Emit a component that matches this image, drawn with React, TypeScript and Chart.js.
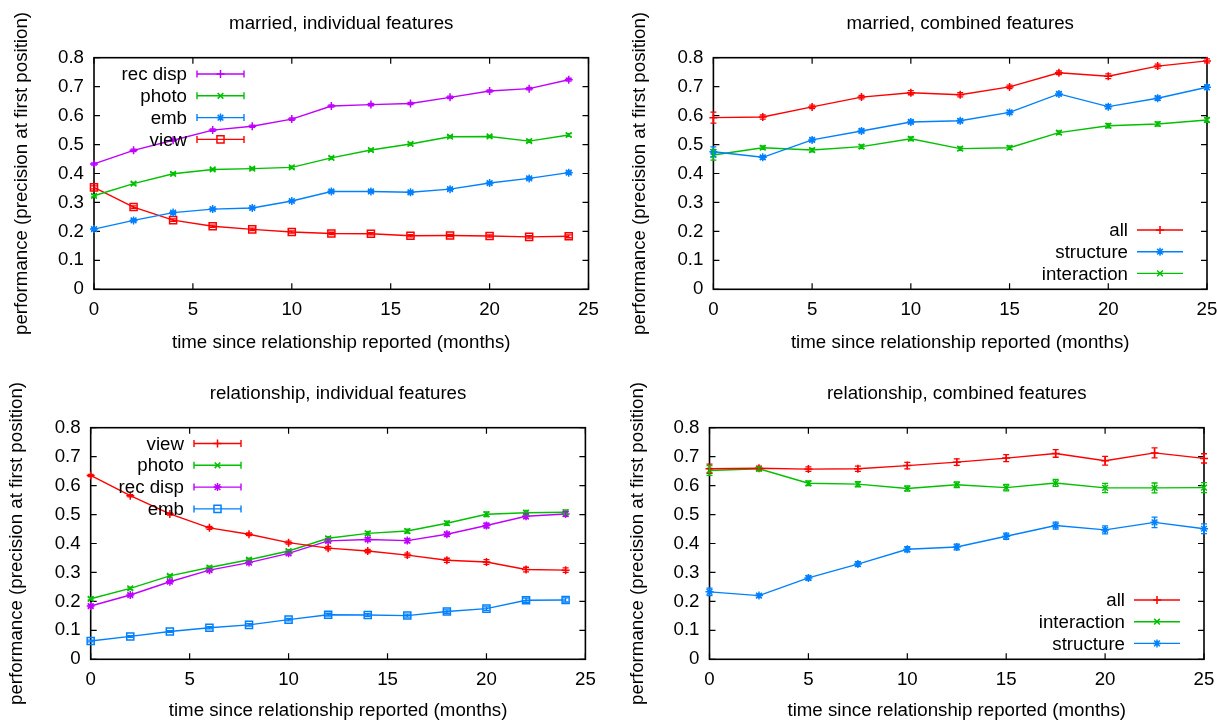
import React, { useEffect, useRef } from 'react';
import { Chart, registerables } from 'chart.js';

Chart.register(...registerables);

const FONT = '"Liberation Sans", Arial, Helvetica, sans-serif';

// ---------- axis data ----------
const monthsEven = [0, 2, 4, 6, 8, 10, 12, 14, 16, 18, 20, 22, 24];
const monthsQuarter = [0, 2.5, 5, 7.5, 10, 12.5, 15, 17.5, 20, 22.5, 25];
const xTickValues = [0, 5, 10, 15, 20, 25];
const xTickLabels = ['0', '5', '10', '15', '20', '25'];
const yTickValues = [0, 0.1, 0.2, 0.3, 0.4, 0.5, 0.6, 0.7, 0.8];
const yTickLabels = ['0', '0.1', '0.2', '0.3', '0.4', '0.5', '0.6', '0.7', '0.8'];

const xAxisTitle = 'time since relationship reported (months)';
const yAxisTitle = 'performance (precision at first position)';

// ---------- married, individual features ----------
const marriedIndRecDisp = [0.433, 0.48, 0.515, 0.55, 0.563, 0.588, 0.633, 0.638, 0.642, 0.663, 0.685, 0.693, 0.724];
const marriedIndRecDispErr = [0.004, 0.004, 0.004, 0.004, 0.004, 0.004, 0.004, 0.004, 0.004, 0.004, 0.004, 0.004, 0.005];
const marriedIndPhoto = [0.323, 0.365, 0.399, 0.414, 0.417, 0.421, 0.454, 0.481, 0.502, 0.527, 0.528, 0.512, 0.533];
const marriedIndPhotoErr = [0.004, 0.004, 0.004, 0.004, 0.004, 0.004, 0.004, 0.004, 0.004, 0.004, 0.004, 0.004, 0.005];
const marriedIndEmb = [0.208, 0.238, 0.265, 0.277, 0.281, 0.305, 0.338, 0.338, 0.335, 0.346, 0.367, 0.383, 0.403];
const marriedIndEmbErr = [0.004, 0.004, 0.004, 0.004, 0.004, 0.004, 0.004, 0.004, 0.004, 0.004, 0.004, 0.004, 0.005];
const marriedIndView = [0.352, 0.284, 0.239, 0.218, 0.207, 0.198, 0.193, 0.192, 0.185, 0.186, 0.184, 0.181, 0.183];
const marriedIndViewErr = [0.005, 0.004, 0.004, 0.004, 0.004, 0.004, 0.004, 0.004, 0.004, 0.004, 0.004, 0.004, 0.005];

// ---------- married, combined features ----------
const marriedCombAll = [0.593, 0.595, 0.63, 0.664, 0.679, 0.672, 0.699, 0.748, 0.736, 0.771, 0.789];
const marriedCombAllErr = [0.019, 0.007, 0.006, 0.006, 0.007, 0.007, 0.006, 0.006, 0.008, 0.007, 0.007];
const marriedCombStructure = [0.475, 0.456, 0.516, 0.547, 0.578, 0.582, 0.611, 0.675, 0.631, 0.66, 0.698];
const marriedCombStructureErr = [0.017, 0.006, 0.006, 0.006, 0.006, 0.006, 0.006, 0.006, 0.007, 0.007, 0.008];
const marriedCombInteraction = [0.464, 0.489, 0.481, 0.493, 0.52, 0.486, 0.489, 0.541, 0.565, 0.571, 0.585];
const marriedCombInteractionErr = [0.018, 0.006, 0.006, 0.006, 0.006, 0.006, 0.006, 0.006, 0.007, 0.007, 0.008];

// ---------- relationship, individual features ----------
const relIndView = [0.635, 0.565, 0.502, 0.454, 0.432, 0.403, 0.384, 0.374, 0.36, 0.342, 0.336, 0.31, 0.308];
const relIndViewErr = [0.004, 0.004, 0.004, 0.005, 0.005, 0.005, 0.006, 0.006, 0.007, 0.007, 0.008, 0.008, 0.008];
const relIndPhoto = [0.209, 0.245, 0.288, 0.317, 0.344, 0.374, 0.418, 0.435, 0.443, 0.47, 0.501, 0.506, 0.508];
const relIndPhotoErr = [0.004, 0.004, 0.004, 0.005, 0.005, 0.005, 0.006, 0.006, 0.007, 0.007, 0.008, 0.008, 0.008];
const relIndRecDisp = [0.184, 0.222, 0.268, 0.308, 0.334, 0.366, 0.409, 0.414, 0.41, 0.432, 0.462, 0.494, 0.502];
const relIndRecDispErr = [0.004, 0.004, 0.004, 0.005, 0.005, 0.005, 0.006, 0.006, 0.007, 0.007, 0.008, 0.008, 0.008];
const relIndEmb = [0.063, 0.079, 0.096, 0.109, 0.119, 0.137, 0.154, 0.153, 0.151, 0.165, 0.175, 0.204, 0.205];
const relIndEmbErr = [0.003, 0.003, 0.003, 0.004, 0.004, 0.004, 0.005, 0.005, 0.005, 0.006, 0.006, 0.007, 0.007];

// ---------- relationship, combined features ----------
const relCombAll = [0.658, 0.66, 0.657, 0.658, 0.669, 0.681, 0.695, 0.711, 0.686, 0.713, 0.694];
const relCombAllErr = [0.016, 0.007, 0.008, 0.009, 0.011, 0.011, 0.012, 0.013, 0.015, 0.017, 0.016];
const relCombInteraction = [0.652, 0.658, 0.608, 0.605, 0.59, 0.603, 0.593, 0.609, 0.592, 0.592, 0.593];
const relCombInteractionErr = [0.017, 0.007, 0.008, 0.009, 0.009, 0.01, 0.011, 0.012, 0.016, 0.017, 0.017];
const relCombStructure = [0.233, 0.22, 0.281, 0.329, 0.38, 0.388, 0.425, 0.462, 0.447, 0.473, 0.451];
const relCombStructureErr = [0.013, 0.006, 0.007, 0.008, 0.009, 0.01, 0.011, 0.012, 0.014, 0.018, 0.017];

const RED = '#ff0000';
const GREEN = '#00c000';
const BLUE = '#0080ff';
const PURPLE = '#c000ff';

type MarkerStyle = 'cross' | 'crossRot' | 'star' | 'rect';
type Series = { label: string; values: number[]; err: number[]; color: string; marker: MarkerStyle };
type Panel = {
  title: string;
  left: number; top: number; width: number; height: number;
  area: { l: number; r: number; t: number; b: number };
  titleY: number; yTitleX: number; xTitleY: number;
  xs: number[];
  series: Series[];
  key: { textRight: number; x1: number; x2: number; y0: number; dy: number; caps: boolean };
};

const panels: Panel[] = [
  {
    title: 'married, individual features',
    left: 0, top: 0, width: 608, height: 361,
    area: { l: 94, r: 588.5, t: 57.7, b: 289.3 },
    titleY: 24, yTitleX: 21.5, xTitleY: 343,
    xs: monthsEven,
    series: [
      { label: 'rec disp', values: marriedIndRecDisp, err: marriedIndRecDispErr, color: PURPLE, marker: 'cross' },
      { label: 'photo', values: marriedIndPhoto, err: marriedIndPhotoErr, color: GREEN, marker: 'crossRot' },
      { label: 'emb', values: marriedIndEmb, err: marriedIndEmbErr, color: BLUE, marker: 'star' },
      { label: 'view', values: marriedIndView, err: marriedIndViewErr, color: RED, marker: 'rect' },
    ],
    key: { textRight: 187, x1: 197, x2: 244, y0: 74, dy: 21.8, caps: true },
  },
  {
    title: 'married, combined features',
    left: 608, top: 0, width: 609, height: 361,
    area: { l: 105.4, r: 599, t: 57.7, b: 289.3 },
    titleY: 24, yTitleX: 31.7, xTitleY: 343,
    xs: monthsQuarter,
    series: [
      { label: 'all', values: marriedCombAll, err: marriedCombAllErr, color: RED, marker: 'cross' },
      { label: 'structure', values: marriedCombStructure, err: marriedCombStructureErr, color: BLUE, marker: 'star' },
      { label: 'interaction', values: marriedCombInteraction, err: marriedCombInteractionErr, color: GREEN, marker: 'crossRot' },
    ],
    key: { textRight: 520, x1: 529, x2: 575, y0: 230, dy: 21.7, caps: false },
  },
  {
    title: 'relationship, individual features',
    left: 0, top: 361, width: 608, height: 361,
    area: { l: 90.7, r: 585.4, t: 66.7, b: 298.3 },
    titleY: 33, yTitleX: 17, xTitleY: 351,
    xs: monthsEven,
    series: [
      { label: 'view', values: relIndView, err: relIndViewErr, color: RED, marker: 'cross' },
      { label: 'photo', values: relIndPhoto, err: relIndPhotoErr, color: GREEN, marker: 'crossRot' },
      { label: 'rec disp', values: relIndRecDisp, err: relIndRecDispErr, color: PURPLE, marker: 'star' },
      { label: 'emb', values: relIndEmb, err: relIndEmbErr, color: BLUE, marker: 'rect' },
    ],
    key: { textRight: 184, x1: 194, x2: 241, y0: 82.5, dy: 21.8, caps: true },
  },
  {
    title: 'relationship, combined features',
    left: 608, top: 361, width: 609, height: 361,
    area: { l: 101.5, r: 596, t: 66.7, b: 298.3 },
    titleY: 33, yTitleX: 29.7, xTitleY: 351,
    xs: monthsQuarter,
    series: [
      { label: 'all', values: relCombAll, err: relCombAllErr, color: RED, marker: 'cross' },
      { label: 'interaction', values: relCombInteraction, err: relCombInteractionErr, color: GREEN, marker: 'crossRot' },
      { label: 'structure', values: relCombStructure, err: relCombStructureErr, color: BLUE, marker: 'star' },
    ],
    key: { textRight: 517, x1: 526, x2: 572, y0: 239, dy: 21.7, caps: false },
  },
];

const FS = 18.7;
const LH = FS * 1.2;

function drawMarker(ctx: CanvasRenderingContext2D, style: MarkerStyle, x: number, y: number, r: number) {
  ctx.beginPath();
  if (style === 'cross' || style === 'star') {
    ctx.moveTo(x - r, y); ctx.lineTo(x + r, y);
    ctx.moveTo(x, y - r); ctx.lineTo(x, y + r);
  }
  if (style === 'crossRot' || style === 'star') {
    const d = r * Math.SQRT1_2;
    ctx.moveTo(x - d, y - d); ctx.lineTo(x + d, y + d);
    ctx.moveTo(x - d, y + d); ctx.lineTo(x + d, y - d);
  }
  if (style === 'rect') {
    const s = r * Math.SQRT1_2;
    ctx.rect(x - s, y - s, 2 * s, 2 * s);
  }
  ctx.stroke();
}

const frameTicksPlugin = {
  id: 'gpFrame',
  beforeDatasetsDraw(chart: any) {
    const { ctx, chartArea: a, scales } = chart;
    ctx.save();
    ctx.strokeStyle = '#000';
    ctx.lineWidth = 1.2;
    const tl = 6;
    ctx.beginPath();
    for (const t of scales.x.ticks) {
      const px = scales.x.getPixelForValue(t.value);
      ctx.moveTo(px, a.bottom); ctx.lineTo(px, a.bottom - tl);
      ctx.moveTo(px, a.top); ctx.lineTo(px, a.top + tl);
    }
    for (const t of scales.y.ticks) {
      const py = scales.y.getPixelForValue(t.value);
      ctx.moveTo(a.left, py); ctx.lineTo(a.left + tl, py);
      ctx.moveTo(a.right, py); ctx.lineTo(a.right - tl, py);
    }
    ctx.stroke();
    ctx.lineWidth = 1.6;
    ctx.strokeRect(a.left, a.top, a.right - a.left, a.bottom - a.top);
    ctx.restore();
  },
};

const errorBarPlugin = {
  id: 'gpErr',
  afterDatasetsDraw(chart: any) {
    const { ctx, scales } = chart;
    ctx.save();
    ctx.lineWidth = 1.3;
    chart.data.datasets.forEach((ds: any, di: number) => {
      const meta = chart.getDatasetMeta(di);
      ctx.strokeStyle = ds.borderColor;
      ctx.beginPath();
      meta.data.forEach((pt: any, i: number) => {
        const v = ds.data[i].y;
        const e = ds.errors[i];
        const y1 = scales.y.getPixelForValue(v - e);
        const y2 = scales.y.getPixelForValue(v + e);
        const x = pt.x;
        ctx.moveTo(x, y1); ctx.lineTo(x, y2);
        ctx.moveTo(x - 3, y1); ctx.lineTo(x + 3, y1);
        ctx.moveTo(x - 3, y2); ctx.lineTo(x + 3, y2);
      });
      ctx.stroke();
    });
    ctx.restore();
  },
};

const keyPlugin = {
  id: 'gpKey',
  afterDraw(chart: any, _args: any, opts: any) {
    const { ctx } = chart;
    ctx.save();
    ctx.font = `${FS}px ${FONT}`;
    ctx.textAlign = 'right';
    ctx.textBaseline = 'middle';
    chart.data.datasets.forEach((ds: any, i: number) => {
      const y = opts.y0 + i * opts.dy;
      ctx.fillStyle = '#000';
      ctx.fillText(ds.label, opts.textRight, y + 1);
      ctx.strokeStyle = ds.borderColor;
      ctx.lineWidth = 1.4;
      ctx.beginPath();
      ctx.moveTo(opts.x1, y); ctx.lineTo(opts.x2, y);
      if (opts.caps) {
        ctx.moveTo(opts.x1, y - 3.5); ctx.lineTo(opts.x1, y + 3.5);
        ctx.moveTo(opts.x2, y - 3.5); ctx.lineTo(opts.x2, y + 3.5);
      }
      ctx.stroke();
      ctx.lineWidth = 1.5;
      drawMarker(ctx, ds.pointStyle, (opts.x1 + opts.x2) / 2, y, ds.pointRadius);
    });
    ctx.restore();
  },
};

function labelFor(values: number[], labels: string[], v: number) {
  const i = values.findIndex((t) => Math.abs(t - v) < 1e-9);
  return i >= 0 ? labels[i] : '';
}

function PanelChart({ p }: { p: Panel }) {
  const ref = useRef<HTMLCanvasElement>(null);
  useEffect(() => {
    if (!ref.current) return;
    const font = { family: FONT, size: FS, weight: 'normal' as const, lineHeight: 1.2 };
    const titlePadTop = p.titleY - LH / 2;
    const titlePadBottom = p.area.t - titlePadTop - LH;
    const xTitlePadBottom = Math.max(0, p.height - p.xTitleY - LH / 2);
    const chart = new Chart(ref.current, {
      type: 'line',
      data: {
        datasets: p.series.map((s) => ({
          label: s.label,
          data: p.xs.map((x, i) => ({ x, y: s.values[i] })),
          errors: s.err,
          borderColor: s.color,
          backgroundColor: s.color,
          borderWidth: 1.4,
          pointStyle: s.marker,
          pointRadius: s.marker === 'rect' ? 5 : 4,
          pointBorderWidth: 1.5,
          pointBorderColor: s.color,
          pointBackgroundColor: 'rgba(0,0,0,0)',
          tension: 0,
          clip: false,
        })) as any,
      },
      options: {
        responsive: false,
        animation: false,
        events: [],
        layout: { padding: { left: 0, top: 0, right: p.width - p.area.r, bottom: 0 } },
        plugins: {
          legend: { display: false },
          tooltip: { enabled: false },
          title: {
            display: true,
            fullSize: false,
            text: p.title,
            color: '#000',
            font,
            padding: { top: titlePadTop, bottom: titlePadBottom },
          },
          gpKey: p.key,
        } as any,
        scales: {
          x: {
            type: 'linear',
            min: 0,
            max: 25,
            grid: { display: false, drawTicks: false },
            border: { display: false },
            afterBuildTicks: (s: any) => { s.ticks = xTickValues.map((v) => ({ value: v })); },
            ticks: {
              color: '#000',
              font,
              padding: 9,
              maxRotation: 0,
              autoSkip: false,
              callback: (v: any) => labelFor(xTickValues, xTickLabels, Number(v)),
            },
            title: { display: true, text: xAxisTitle, color: '#000', font, padding: { top: 0, bottom: xTitlePadBottom } },
            afterFit: (s: any) => {
              s.height = p.height - p.area.b;
              s.paddingLeft = 0; s.paddingRight = 0;
            },
          },
          y: {
            type: 'linear',
            min: 0,
            max: 0.8,
            grid: { display: false, drawTicks: false },
            border: { display: false },
            afterBuildTicks: (s: any) => { s.ticks = yTickValues.map((v) => ({ value: v })); },
            ticks: {
              color: '#000',
              font,
              padding: 10,
              autoSkip: false,
              callback: (v: any) => labelFor(yTickValues, yTickLabels, Number(v)),
            },
            title: { display: true, text: yAxisTitle, color: '#000', font, padding: { top: p.yTitleX - LH / 2, bottom: 0 } },
            afterFit: (s: any) => {
              s.width = p.area.l;
              s.paddingTop = 0; s.paddingBottom = 0;
            },
          },
        },
      } as any,
      plugins: [frameTicksPlugin, errorBarPlugin, keyPlugin],
    });
    return () => chart.destroy();
  }, [p]);
  return (
    <canvas
      ref={ref}
      width={p.width}
      height={p.height}
      style={{ position: 'absolute', left: p.left, top: p.top, width: p.width, height: p.height, display: 'block' }}
    />
  );
}

export default function App() {
  return (
    <div style={{ position: 'absolute', left: 0, top: 0, width: 1217, height: 722, background: '#fff', overflow: 'hidden' }}>
      {panels.map((p, i) => (
        <PanelChart key={i} p={p} />
      ))}
    </div>
  );
}
